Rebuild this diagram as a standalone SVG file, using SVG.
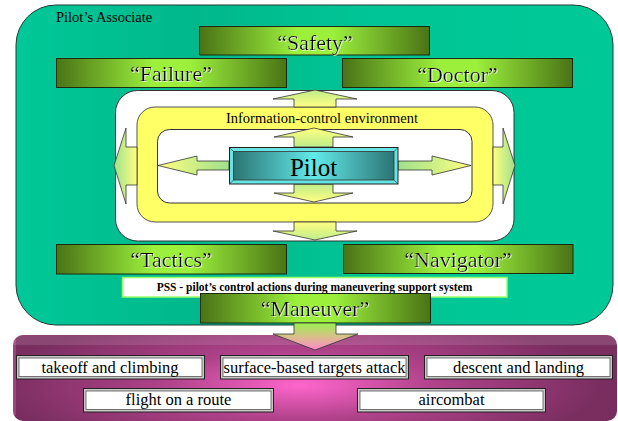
<svg xmlns="http://www.w3.org/2000/svg" width="618" height="421" viewBox="0 0 618 421">
<defs>
<linearGradient id="teal" x1="0" y1="0" x2="1" y2="0">
<stop offset="0" stop-color="#00C898"/><stop offset="0.3" stop-color="#00B88C"/><stop offset="0.6" stop-color="#00C596"/><stop offset="1" stop-color="#00C998"/>
</linearGradient>
<linearGradient id="green" x1="0" y1="0" x2="1" y2="0">
<stop offset="0" stop-color="#4A7316"/><stop offset="0.42" stop-color="#9CF03C"/><stop offset="0.58" stop-color="#9CF03C"/><stop offset="1" stop-color="#4A7316"/>
</linearGradient>
<linearGradient id="pilotG" x1="0" y1="0" x2="1" y2="0">
<stop offset="0" stop-color="#2C7474"/><stop offset="0.5" stop-color="#62EAEA"/><stop offset="1" stop-color="#2C7474"/>
</linearGradient>
<linearGradient id="aUp" x1="0" y1="0" x2="0" y2="1">
<stop offset="0" stop-color="#BEEC8C"/><stop offset="1" stop-color="#FFFF80"/>
</linearGradient>
<linearGradient id="aDown" x1="0" y1="1" x2="0" y2="0">
<stop offset="0" stop-color="#BEEC8C"/><stop offset="1" stop-color="#FFFF80"/>
</linearGradient>
<linearGradient id="aLeft" x1="0" y1="0" x2="1" y2="0">
<stop offset="0" stop-color="#9EE08C"/><stop offset="1" stop-color="#FFFF80"/>
</linearGradient>
<linearGradient id="aRight" x1="1" y1="0" x2="0" y2="0">
<stop offset="0" stop-color="#9EE08C"/><stop offset="1" stop-color="#FFFF80"/>
</linearGradient>
<linearGradient id="aMan" x1="0" y1="0" x2="0" y2="1">
<stop offset="0" stop-color="#99F050"/><stop offset="0.5" stop-color="#D8C088"/><stop offset="1" stop-color="#FF88CC"/>
</linearGradient>
<radialGradient id="mag" gradientUnits="userSpaceOnUse" cx="300" cy="385" r="300" gradientTransform="translate(300 385) scale(1 0.25) translate(-300 -385)">
<stop offset="0" stop-color="#FF66CC"/><stop offset="0.45" stop-color="#B0428A"/><stop offset="1" stop-color="#7A2E60"/>
</radialGradient>
<filter id="glow" x="-10%" y="-20%" width="120%" height="140%">
<feDropShadow dx="0.8" dy="0.8" stdDeviation="0.3" flood-color="#FFFFFF" flood-opacity="0.9"/>
</filter>
</defs>
<style>
text{font-family:"Liberation Serif","Times New Roman",Times,"DejaVu Serif",serif}
.gbox{fill:url(#green);stroke:#1A2A10;stroke-width:1}
.gtxt{font-size:22px;fill:#000;text-anchor:middle;filter:url(#glow)}
.arr{stroke:#333;stroke-width:0.8;stroke-linejoin:miter}
.task-o{fill:#C8C8C8;stroke:#222;stroke-width:1}
.task-i{fill:#FFFFFF;stroke:#555;stroke-width:0.8}
.ttxt{font-size:16.5px;fill:#000;text-anchor:middle}
</style>

<g id="pilots-associate">
<rect x="16" y="5" width="597" height="320" rx="40" ry="40" fill="url(#teal)" stroke="#1F3A33" stroke-width="1"/>
<text x="56" y="22" font-size="14.5" fill="#000">Pilot’s Associate</text>
</g>

<g id="safety">
<rect class="gbox" x="199.5" y="26.5" width="230" height="28.5"/>
<text class="gtxt" x="315" y="50">“Safety”</text>
</g>
<g id="failure">
<rect class="gbox" x="56.5" y="58.5" width="230" height="29"/>
<text class="gtxt" x="171" y="81">“Failure”</text>
</g>
<g id="doctor">
<rect class="gbox" x="342.5" y="58.5" width="230" height="29"/>
<text class="gtxt" x="457.5" y="82">“Doctor”</text>
</g>

<g id="environment">
<rect x="115.5" y="90.5" width="398.5" height="150.5" rx="22" ry="22" fill="#FFFFFF" stroke="#333" stroke-width="1"/>
<rect x="137" y="107" width="356" height="115" rx="18" ry="18" fill="#FFFF66" stroke="#555" stroke-width="1"/>
<rect x="157.5" y="129.5" width="314.5" height="73.5" rx="12" ry="12" fill="#FFFFFF" stroke="#333" stroke-width="1"/>
<text x="322" y="123" font-size="14.5" fill="#000" text-anchor="middle">Information-control environment</text>
</g>

<g id="connectors">
<polygon class="arr" fill="url(#aUp)" points="294,107 294,99 273,99 315,90 357,99 336,99 336,107"/>
<polygon class="arr" fill="url(#aDown)" points="294,222 294,231 273,231 315,240 357,231 336,231 336,222"/>
<polygon class="arr" fill="url(#aDown)" points="294,147 294,137 274,137 314,128 353,137 333,137 333,147"/>
<polygon class="arr" fill="url(#aUp)" points="294,184 294,193 274,193 314,202 353,193 333,193 333,184"/>
<polygon class="arr" fill="url(#aRight)" points="229,161 197,161 197,156 158,165.5 197,175 197,170 229,170"/>
<polygon class="arr" fill="url(#aLeft)" points="398,161 432,161 432,156 471,165.5 432,175 432,170 398,170"/>
<polygon class="arr" fill="url(#aLeft)" points="137,147 126,147 126,128 114,165.5 126,204 126,185 137,185"/>
<polygon class="arr" fill="url(#aRight)" points="493,147 503,147 503,128 515,165.5 503,204 503,185 493,185"/>
</g>

<g id="pilot">
<rect x="229.5" y="147.5" width="168.5" height="36.5" fill="#66E4E4" stroke="#222" stroke-width="1"/>
<rect x="233.5" y="151.5" width="160.5" height="28.5" fill="url(#pilotG)" stroke="#333" stroke-width="0.8"/>
<path d="M229.5,147.5 L233.5,151.5 M398,147.5 L394,151.5 M229.5,184 L233.5,180 M398,184 L394,180" stroke="#333" stroke-width="0.6" fill="none"/>
<text x="313.5" y="176" font-size="25" fill="#000" text-anchor="middle">Pilot</text>
</g>

<g id="tactics">
<rect class="gbox" x="56.5" y="244.5" width="230" height="29.5"/>
<text class="gtxt" x="171" y="267">“Tactics”</text>
</g>
<g id="navigator">
<rect class="gbox" x="343.5" y="244.5" width="229.5" height="29"/>
<text class="gtxt" x="458" y="267">“Navigator”</text>
</g>

<g id="pss">
<rect x="122.5" y="277.5" width="384.5" height="19.5" fill="#FFFFFF" stroke="#99FF66" stroke-width="1.5"/>
<text x="314.5" y="291" font-size="11.5" font-weight="bold" fill="#000" text-anchor="middle">PSS - pilot’s control actions during maneuvering support system</text>
</g>

<g id="maneuver">
<rect class="gbox" x="200.5" y="293.5" width="230" height="29.5"/>
<text class="gtxt" x="315" y="316">“Maneuver”</text>
</g>

<g id="maneuver-types">
<rect x="13" y="335" width="604" height="86" rx="10" ry="10" fill="url(#mag)"/>
<path d="M23,335 L607,335 Q617,335 617,345 L13,345 Q13,335 23,335 Z" fill="#FFFFFF" fill-opacity="0.12"/>
<rect x="13" y="340" width="3" height="75" fill="#FF88CC" fill-opacity="0.25"/>
</g>

<g id="maneuver-arrow">
<polygon class="arr" fill="url(#aMan)" points="294,323 294,334 273,334 315,350 358,334 336,334 336,323"/>
</g>

<g id="takeoff">
<rect class="task-o" x="16.5" y="355.5" width="188" height="23.5"/>
<rect class="task-i" x="19" y="358" width="183" height="18.5"/>
<text class="ttxt" x="110" y="373">takeoff and climbing</text>
</g>
<g id="surface-attack">
<rect class="task-o" x="220.5" y="355.5" width="188" height="23.5"/>
<rect class="task-i" x="223" y="358" width="183" height="18.5"/>
<text class="ttxt" x="314.5" y="373">surface-based targets attack</text>
</g>
<g id="descent">
<rect class="task-o" x="424.5" y="355.5" width="188" height="23.5"/>
<rect class="task-i" x="427" y="358" width="183" height="18.5"/>
<text class="ttxt" x="518.5" y="373">descent and landing</text>
</g>
<g id="flight-route">
<rect class="task-o" x="83.5" y="388.5" width="190" height="23.5"/>
<rect class="task-i" x="86" y="391" width="185" height="18.5"/>
<text class="ttxt" x="178.5" y="405">flight on a route</text>
</g>
<g id="aircombat">
<rect class="task-o" x="357.5" y="388.5" width="188" height="23.5"/>
<rect class="task-i" x="360" y="391" width="183" height="18.5"/>
<text class="ttxt" x="451.5" y="405">aircombat</text>
</g>
</svg>
